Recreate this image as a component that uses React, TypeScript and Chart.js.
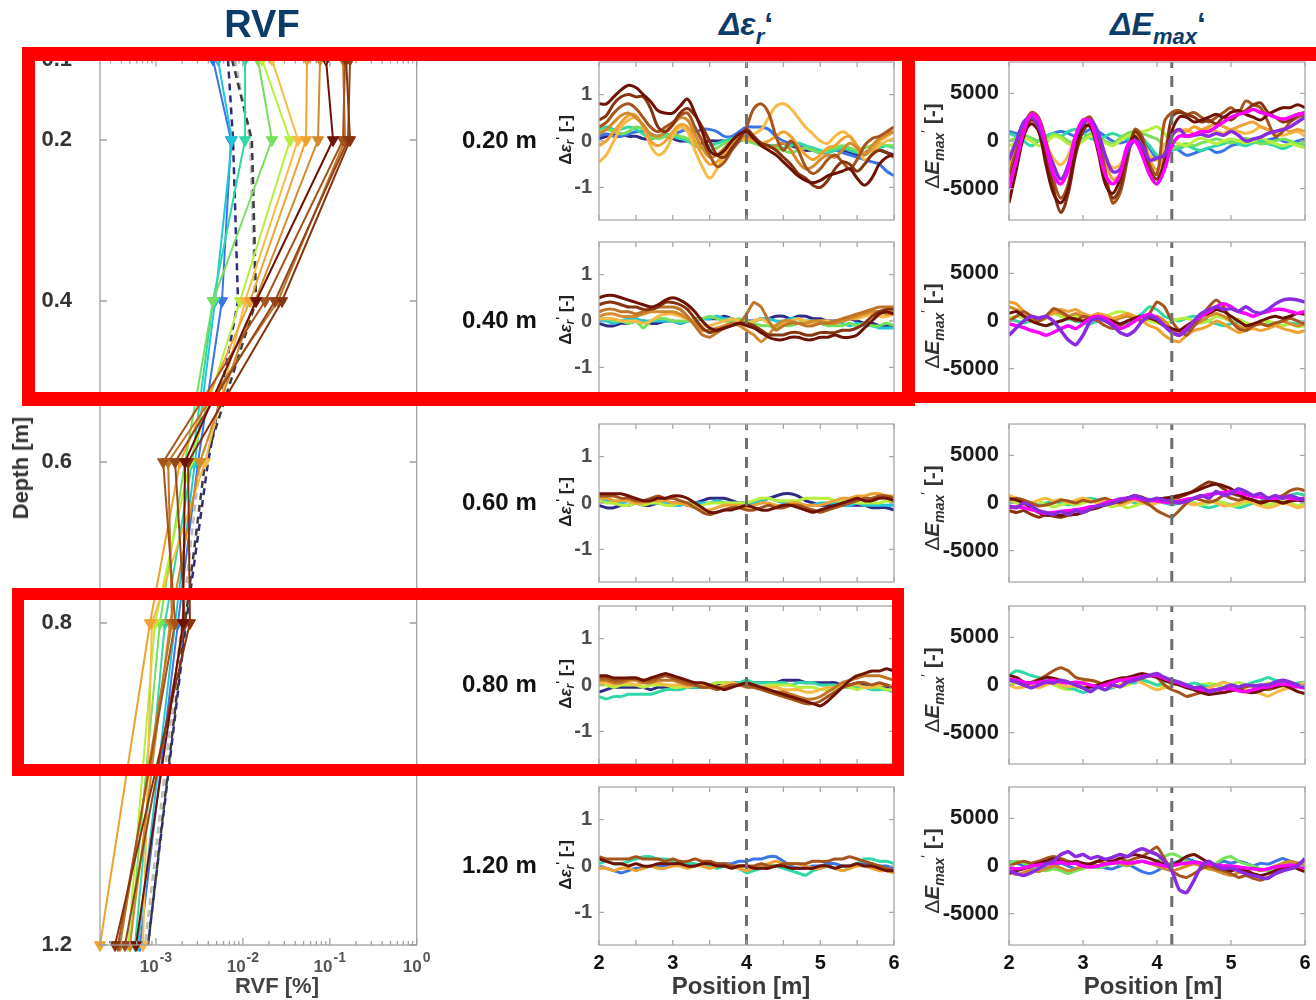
import React, { useEffect, useRef } from "react";
import { Chart, registerables } from "chart.js";

Chart.register(...registerables);

const FONT = "'Liberation Sans', Arimo, Arial, Helvetica, sans-serif";

// ---------------- data ----------------
const POSITIONS = [2.0, 2.1, 2.2, 2.3, 2.4, 2.5, 2.6, 2.7, 2.8, 2.9, 3.0, 3.1, 3.2, 3.3, 3.4, 3.5, 3.6, 3.7, 3.8, 3.9, 4.0, 4.1, 4.2, 4.3, 4.4, 4.5, 4.6, 4.7, 4.8, 4.9, 5.0, 5.1, 5.2, 5.3, 5.4, 5.5, 5.6, 5.7, 5.8, 5.9, 6.0];
const DEPTH_LABELS = ["0.20 m", "0.40 m", "0.60 m", "0.80 m", "1.20 m"];
const EPS_TICKS = [-1, 0, 1];
const EMAX_TICKS = [-5000, 0, 5000];
const EPS_X_TICKS = [2, 2.5, 3, 3.5, 4, 4.5, 5, 5.5, 6];
const EMAX_X_TICKS = [2, 3, 4, 5, 6];
const EPS_LIMIT = 1.7;
const EMAX_LIMIT = 8300;
const EPS_MARKER_POSITION = 4.0;
const EMAX_MARKER_POSITION = 4.2;

const RVF_DEPTHS = [0.1, 0.2, 0.4, 0.6, 0.8, 1.2];
const RVF_DEPTH_TICKS = [0.1, 0.2, 0.4, 0.6, 0.8, 1.2];
const RVF_MIN = 2.27e-4;
const RVF_MAX = 1;
const RVF_DECADES = [1e-3, 1e-2, 1e-1, 1];
const RVF_MINOR = [3e-4, 4e-4, 5e-4, 6e-4, 7e-4, 8e-4, 9e-4, 2e-3, 3e-3, 4e-3, 5e-3, 6e-3, 7e-3, 8e-3, 9e-3, 2e-2, 3e-2, 4e-2, 5e-2, 6e-2, 7e-2, 8e-2, 9e-2, 0.2, 0.3, 0.4, 0.5, 0.6, 0.7, 0.8, 0.9];

const RVF_KEYS = ["s14", "s13", "s12", "s11", "s10", "s9", "s8", "s7", "s6", "s5", "s4", "s3", "s2"];
const RVF_VALUES = [
  [0.0905, 0.109, 0.0142, 0.00216, 0.00205, 0.000589],
  [0.154, 0.171, 0.0282, 0.00234, 0.00246, 0.000338],
  [0.171, 0.162, 0.0234, 0.00166, 0.00216, 0.00044],
  [0.15, 0.142, 0.018, 0.00121, 0.00166, 0.000366],
  [0.142, 0.15, 0.0254, 0.00138, 0.00153, 0.000386],
  [0.0772, 0.0732, 0.0138, 0.00321, 0.00145, 0.000503],
  [0.0547, 0.0533, 0.0121, 0.00189, 0.000854, 0.000227],
  [0.0216, 0.0431, 0.0106, 0.00367, 0.0009, 0.000709],
  [0.0166, 0.0349, 0.00927, 0.00246, 0.000975, 0.000477],
  [0.0149, 0.0216, 0.00453, 0.00216, 0.00111, 0.000503],
  [0.0106, 0.0106, 0.00453, 0.0026, 0.00127, 0.000574],
  [0.00517, 0.0075, 0.00478, 0.00281, 0.00166, 0.000621],
  [0.00453, 0.0073, 0.00575, 0.00305, 0.00179, 0.000655],
];
const RVF_REF_KEYS = ["d3", "d1", "d2"];
const RVF_REF_VALUES = [
  [0.0075, 0.0127, 0.0142, 0.00367, 0.00216, 0.00081],
  [0.00674, 0.0077, 0.00879, 0.00397, 0.00222, 0.00081],
  [0.00812, 0.0121, 0.0138, 0.00321, 0.00199, 0.000748],
];

// Δεr' panels
const EPS_020_KEYS = ["s14", "s13", "s11", "s9", "s8", "s7", "s5", "s4", "s2", "s1"];
const EPS_020 = [
  [0.8, 0.8, 0.95, 1.1, 1.2, 1.15, 1.0, 0.85, 0.65, 0.6, 0.6, 0.75, 0.9, 0.6, 0.2, -0.2, -0.3, -0.2, 0.0, 0.15, 0.2, 0.05, -0.1, -0.2, -0.3, -0.45, -0.6, -0.75, -0.85, -0.9, -0.85, -0.75, -0.7, -0.65, -0.6, -0.8, -0.95, -0.8, -0.5, -0.35, -0.3],
  [0.45, 0.55, 0.8, 0.95, 1.0, 0.95, 0.95, 0.7, 0.3, 0.2, 0.35, 0.6, 0.7, 0.55, 0.3, 0.0, -0.3, -0.35, -0.15, 0.05, 0.25, 0.1, -0.05, -0.1, -0.2, -0.35, -0.5, -0.7, -0.8, -0.95, -1.0, -0.85, -0.6, -0.45, -0.5, -0.65, -0.5, -0.3, -0.2, -0.25, -0.35],
  [0.3, 0.4, 0.6, 0.75, 0.8, 0.7, 0.5, 0.3, 0.2, 0.3, 0.4, 0.55, 0.6, 0.3, 0.0, -0.3, -0.55, -0.45, -0.2, 0.0, 0.3, 0.7, 0.8, 0.6, 0.1, -0.2, 0.0, -0.2, -0.55, -0.7, -0.6, -0.4, -0.3, -0.45, -0.6, -0.4, -0.1, 0.05, 0.1, 0.2, 0.3],
  [0.15, 0.25, 0.4, 0.55, 0.6, 0.5, 0.35, 0.15, 0.1, 0.2, 0.35, 0.5, 0.45, 0.15, -0.15, -0.35, -0.3, -0.15, 0.0, 0.1, 0.1, 0.05, -0.1, -0.15, -0.1, -0.05, -0.2, -0.45, -0.6, -0.55, -0.4, -0.3, -0.35, -0.2, -0.05, -0.15, -0.3, -0.1, 0.05, 0.15, 0.2],
  [-0.1, 0.0, 0.2, 0.4, 0.55, 0.55, 0.3, 0.0, -0.1, 0.0, 0.2, 0.35, 0.3, 0.0, -0.3, -0.5, -0.45, -0.25, -0.05, 0.05, 0.05, 0.0, -0.05, 0.0, 0.1, 0.2, 0.1, -0.1, -0.3, -0.4, -0.3, -0.15, -0.1, 0.05, 0.1, -0.1, -0.25, -0.2, 0.0, 0.1, 0.2],
  [-0.45, -0.3, 0.0, 0.3, 0.45, 0.5, 0.3, -0.1, -0.3, -0.2, 0.1, 0.3, 0.2, -0.2, -0.55, -0.8, -0.6, -0.3, -0.05, 0.1, 0.0, 0.15, 0.25, 0.5, 0.75, 0.8, 0.7, 0.5, 0.3, 0.15, 0.0, -0.05, 0.1, 0.2, 0.1, -0.15, -0.4, -0.3, -0.1, 0.0, 0.05],
  [0.2, 0.25, 0.2, 0.15, 0.2, 0.3, 0.25, 0.1, 0.05, 0.1, 0.15, 0.1, 0.05, -0.05, -0.15, -0.2, -0.15, -0.05, 0.0, 0.05, 0.0, -0.05, -0.1, -0.1, -0.15, -0.2, -0.25, -0.2, -0.15, -0.2, -0.25, -0.2, -0.15, -0.1, -0.15, -0.2, -0.15, -0.1, -0.05, -0.1, -0.1],
  [0.25, 0.3, 0.25, 0.25, 0.3, 0.25, 0.15, 0.05, 0.1, 0.15, 0.1, 0.05, 0.0, -0.1, -0.15, -0.1, -0.05, 0.0, 0.05, 0.0, 0.05, 0.0, -0.05, -0.1, -0.1, -0.15, -0.1, -0.05, -0.1, -0.15, -0.2, -0.25, -0.2, -0.15, -0.2, -0.25, -0.3, -0.2, -0.15, -0.1, -0.15],
  [0.1, 0.15, 0.1, 0.1, 0.15, 0.2, 0.2, 0.15, 0.1, 0.1, 0.15, 0.2, 0.25, 0.2, 0.25, 0.25, 0.2, 0.1, 0.1, 0.2, 0.3, 0.3, 0.3, 0.25, 0.1, 0.0, -0.05, -0.1, -0.15, -0.2, -0.25, -0.25, -0.2, -0.25, -0.3, -0.35, -0.4, -0.45, -0.5, -0.65, -0.75],
  [0.05, 0.1, 0.15, 0.15, 0.1, 0.1, 0.05, 0.05, 0.1, 0.1, 0.05, 0.0, 0.0, -0.05, -0.05, 0.0, 0.0, 0.0, -0.05, 0.0, 0.05, 0.0, -0.05, -0.1, -0.1, -0.05, -0.1, -0.15, -0.2, -0.2, -0.25, -0.2, -0.15, -0.2, -0.25, -0.3, -0.25, -0.2, -0.2, -0.25, -0.3],
];
const EPS_040_KEYS = ["s14", "s13", "s10", "s9", "s7", "s5", "s3", "s1"];
const EPS_040 = [
  [0.5, 0.55, 0.55, 0.5, 0.45, 0.4, 0.35, 0.3, 0.35, 0.45, 0.5, 0.45, 0.35, 0.2, 0.0, -0.15, -0.2, -0.15, -0.1, -0.05, -0.1, -0.15, -0.25, -0.35, -0.4, -0.4, -0.35, -0.35, -0.4, -0.4, -0.35, -0.35, -0.3, -0.35, -0.35, -0.3, -0.15, 0.0, 0.15, 0.2, 0.15],
  [0.35, 0.4, 0.4, 0.35, 0.3, 0.3, 0.25, 0.25, 0.3, 0.4, 0.4, 0.35, 0.25, 0.05, -0.15, -0.25, -0.2, -0.15, -0.1, -0.05, -0.05, -0.1, -0.2, -0.3, -0.3, -0.3, -0.25, -0.25, -0.3, -0.3, -0.25, -0.25, -0.25, -0.2, -0.2, -0.15, -0.05, 0.1, 0.2, 0.25, 0.25],
  [0.2, 0.25, 0.25, 0.2, 0.2, 0.15, 0.2, 0.25, 0.3, 0.3, 0.3, 0.25, 0.1, -0.1, -0.3, -0.35, -0.25, -0.15, -0.05, -0.05, 0.15, 0.4, 0.3, 0.0, -0.2, -0.1, -0.05, -0.05, -0.1, -0.1, -0.05, -0.05, 0.0, 0.05, 0.1, 0.15, 0.2, 0.25, 0.3, 0.3, 0.3],
  [0.1, 0.15, 0.15, 0.1, 0.1, 0.1, 0.15, 0.2, 0.2, 0.2, 0.2, 0.15, 0.05, -0.05, -0.2, -0.2, -0.15, -0.1, -0.05, -0.1, -0.2, -0.3, -0.45, -0.3, -0.1, 0.0, 0.0, -0.05, -0.05, 0.0, 0.0, -0.05, -0.05, 0.0, 0.05, 0.1, 0.15, 0.2, 0.2, 0.15, 0.2],
  [0.05, 0.05, 0.05, 0.0, 0.0, 0.0, -0.05, 0.0, 0.1, 0.15, 0.15, 0.1, 0.05, 0.0, -0.1, -0.1, -0.05, 0.0, 0.05, 0.0, -0.05, 0.0, 0.05, -0.05, -0.1, -0.05, 0.0, 0.05, 0.0, -0.05, 0.0, 0.0, -0.05, 0.0, 0.05, 0.05, 0.1, 0.15, 0.1, 0.1, 0.15],
  [0.05, 0.05, 0.0, 0.0, -0.05, 0.0, -0.15, 0.0, 0.05, 0.05, 0.0, 0.0, 0.0, 0.05, 0.05, 0.1, 0.05, 0.0, 0.0, 0.05, 0.0, -0.05, -0.1, -0.1, -0.15, -0.1, -0.1, -0.05, 0.0, -0.05, -0.05, -0.1, -0.1, -0.1, -0.05, -0.1, -0.05, -0.1, -0.1, -0.05, -0.1],
  [0.0, 0.0, -0.05, 0.0, 0.05, 0.05, 0.0, 0.0, 0.0, 0.0, 0.0, -0.05, 0.0, 0.0, 0.05, 0.05, 0.1, 0.05, 0.05, 0.0, -0.05, 0.0, 0.05, 0.05, 0.0, 0.0, 0.05, 0.05, 0.0, 0.0, -0.05, -0.05, 0.0, -0.05, -0.1, -0.05, -0.1, -0.1, -0.15, -0.15, -0.15],
  [-0.05, -0.1, -0.1, -0.05, -0.05, 0.0, 0.0, -0.05, -0.05, 0.0, 0.0, -0.05, 0.0, 0.05, 0.05, 0.05, 0.05, 0.1, 0.05, 0.0, 0.0, 0.0, 0.05, 0.05, 0.1, 0.1, 0.05, 0.1, 0.1, 0.05, 0.05, 0.0, 0.0, 0.0, 0.05, 0.0, -0.05, -0.05, -0.1, -0.1, -0.1],
];
const EPS_060_KEYS = ["s14", "s11", "s8", "s6", "s3", "s1"];
const EPS_060 = [
  [0.2, 0.2, 0.2, 0.2, 0.15, 0.1, 0.05, 0.05, 0.1, 0.1, 0.15, 0.15, 0.1, 0.0, -0.1, -0.2, -0.2, -0.15, -0.15, -0.1, -0.05, -0.1, -0.15, -0.15, -0.1, -0.05, -0.05, -0.1, -0.15, -0.2, -0.15, -0.1, -0.05, 0.0, 0.05, 0.1, 0.05, 0.05, 0.1, 0.1, 0.05],
  [0.15, 0.15, 0.15, 0.1, 0.1, 0.05, 0.05, 0.1, 0.15, 0.1, 0.1, 0.05, 0.0, -0.1, -0.2, -0.25, -0.2, -0.15, -0.1, -0.1, -0.15, -0.15, -0.1, -0.05, -0.1, -0.1, -0.05, -0.05, -0.1, -0.15, -0.2, -0.15, -0.1, -0.05, 0.0, 0.05, 0.1, 0.1, 0.15, 0.15, 0.1],
  [0.1, 0.1, 0.05, 0.05, 0.05, 0.0, 0.0, 0.05, 0.05, 0.05, 0.0, 0.0, -0.05, -0.1, -0.15, -0.15, -0.1, -0.05, -0.05, -0.05, -0.1, -0.05, 0.0, 0.0, -0.05, -0.05, 0.0, 0.0, -0.05, -0.05, -0.05, 0.0, 0.05, 0.1, 0.1, 0.15, 0.15, 0.2, 0.2, 0.15, 0.15],
  [0.05, 0.0, 0.0, -0.05, -0.05, 0.0, -0.05, 0.0, 0.0, -0.05, -0.05, 0.0, 0.0, -0.05, -0.05, 0.0, 0.0, 0.0, 0.0, 0.0, 0.0, 0.05, 0.1, 0.1, 0.05, 0.05, 0.05, 0.05, 0.1, 0.1, 0.1, 0.1, 0.05, 0.05, 0.05, 0.0, 0.0, 0.0, 0.0, 0.05, 0.0],
  [0.05, 0.05, 0.0, 0.0, 0.05, 0.05, 0.0, 0.0, 0.0, 0.0, -0.05, -0.05, 0.0, 0.0, 0.0, 0.0, 0.05, 0.0, 0.0, 0.0, 0.0, 0.0, 0.05, 0.1, 0.05, 0.0, 0.0, 0.0, -0.05, -0.05, 0.0, 0.0, 0.0, -0.05, -0.05, 0.0, -0.05, -0.05, -0.05, -0.05, -0.05],
  [-0.05, -0.1, -0.1, -0.05, -0.05, 0.0, -0.05, -0.05, 0.0, 0.0, 0.0, 0.0, -0.05, 0.0, 0.05, 0.1, 0.1, 0.1, 0.05, 0.0, 0.0, 0.0, 0.05, 0.1, 0.15, 0.2, 0.2, 0.15, 0.05, 0.0, -0.05, -0.05, -0.05, -0.05, -0.05, -0.05, -0.05, -0.1, -0.1, -0.1, -0.15],
];
const EPS_080_KEYS = ["s14", "s11", "s10", "s7", "s6", "s4", "s1"];
const EPS_080 = [
  [0.2, 0.2, 0.15, 0.15, 0.15, 0.15, 0.1, 0.15, 0.2, 0.25, 0.2, 0.15, 0.1, 0.05, 0.05, 0.0, -0.05, -0.1, -0.05, 0.0, 0.05, 0.0, -0.05, -0.1, -0.15, -0.2, -0.25, -0.3, -0.35, -0.4, -0.45, -0.35, -0.2, -0.05, 0.1, 0.2, 0.25, 0.3, 0.3, 0.35, 0.3],
  [0.15, 0.15, 0.1, 0.1, 0.15, 0.15, 0.1, 0.1, 0.15, 0.2, 0.15, 0.1, 0.05, 0.0, -0.05, -0.05, -0.1, -0.05, 0.0, 0.0, 0.0, -0.05, -0.1, -0.15, -0.2, -0.25, -0.3, -0.35, -0.4, -0.4, -0.35, -0.25, -0.15, -0.05, 0.0, 0.05, 0.05, 0.0, 0.05, 0.0, -0.05],
  [0.1, 0.1, 0.05, 0.05, 0.1, 0.1, 0.05, 0.05, 0.1, 0.1, 0.1, 0.05, 0.0, 0.0, -0.05, -0.05, -0.05, -0.05, 0.0, 0.0, -0.05, -0.05, -0.05, -0.1, -0.15, -0.15, -0.2, -0.25, -0.3, -0.3, -0.25, -0.15, -0.05, 0.05, 0.1, 0.15, 0.2, 0.2, 0.2, 0.15, 0.1],
  [0.05, 0.05, 0.0, 0.05, 0.05, 0.0, 0.05, 0.05, 0.05, 0.0, 0.0, 0.0, -0.05, 0.0, 0.0, 0.0, -0.05, 0.0, 0.05, 0.0, 0.0, 0.0, -0.05, -0.05, -0.05, -0.1, -0.1, -0.1, -0.15, -0.15, -0.1, -0.05, -0.05, 0.0, 0.0, 0.0, -0.05, -0.05, 0.0, 0.0, -0.05],
  [0.0, 0.0, -0.05, 0.0, 0.0, 0.0, -0.05, 0.0, 0.0, 0.0, -0.05, -0.05, 0.0, 0.0, 0.0, 0.0, 0.05, 0.05, 0.05, 0.0, 0.0, 0.0, -0.05, 0.0, 0.0, 0.0, 0.0, -0.05, -0.05, -0.05, -0.1, -0.1, -0.1, -0.05, -0.05, -0.1, -0.05, -0.05, -0.05, -0.1, -0.1],
  [-0.25, -0.3, -0.25, -0.25, -0.2, -0.2, -0.2, -0.2, -0.15, -0.1, -0.1, -0.1, -0.05, -0.05, -0.05, 0.0, 0.05, 0.05, 0.05, 0.05, 0.1, 0.05, 0.05, 0.05, 0.05, 0.05, 0.0, 0.05, 0.05, 0.05, 0.0, 0.0, 0.0, -0.05, -0.05, -0.05, -0.05, -0.1, -0.1, -0.1, -0.15],
  [-0.15, -0.1, -0.05, -0.05, -0.05, -0.05, -0.05, -0.1, -0.05, -0.05, -0.05, -0.05, -0.05, -0.05, -0.05, 0.0, 0.0, 0.05, 0.05, 0.05, 0.05, 0.05, 0.05, 0.05, 0.05, 0.1, 0.1, 0.1, 0.05, 0.05, 0.05, 0.05, 0.05, 0.0, 0.0, 0.0, 0.0, -0.05, -0.05, -0.05, -0.05],
];
const EPS_120_KEYS = ["s14", "s11", "s8", "s4", "s2"];
const EPS_120 = [
  [0.15, 0.1, 0.05, 0.05, 0.0, 0.05, 0.0, 0.0, 0.05, 0.05, 0.05, 0.05, 0.0, 0.0, 0.05, 0.05, 0.0, 0.0, -0.05, 0.0, 0.0, -0.05, -0.05, -0.05, 0.0, 0.0, -0.05, -0.05, -0.05, -0.05, 0.0, 0.0, -0.05, 0.0, 0.0, 0.05, 0.0, 0.0, -0.05, -0.1, -0.1],
  [0.2, 0.15, 0.15, 0.15, 0.15, 0.2, 0.15, 0.15, 0.15, 0.1, 0.15, 0.1, 0.1, 0.15, 0.1, 0.1, 0.05, 0.05, 0.0, 0.0, 0.0, 0.0, 0.05, 0.0, 0.0, 0.05, 0.05, 0.05, 0.05, 0.1, 0.1, 0.1, 0.15, 0.15, 0.2, 0.15, 0.1, 0.05, 0.0, -0.05, -0.1],
  [-0.05, -0.05, -0.1, -0.05, -0.05, -0.1, -0.05, 0.0, -0.05, -0.05, 0.0, 0.0, -0.05, 0.0, 0.0, -0.05, 0.0, 0.05, 0.0, -0.05, -0.1, -0.05, 0.0, 0.05, 0.1, 0.05, 0.05, 0.05, 0.0, -0.05, -0.05, 0.0, -0.05, -0.1, -0.05, 0.0, 0.0, -0.05, -0.1, -0.1, -0.15],
  [0.05, 0.1, 0.05, 0.05, 0.1, 0.15, 0.2, 0.2, 0.15, 0.15, 0.1, 0.05, 0.05, 0.05, 0.0, 0.0, -0.05, 0.0, 0.0, -0.05, -0.15, -0.1, -0.05, 0.0, 0.0, -0.05, -0.1, -0.15, -0.2, -0.1, -0.05, 0.0, -0.05, -0.1, -0.05, 0.05, 0.15, 0.15, 0.1, 0.1, 0.05],
  [0.0, -0.05, -0.1, -0.15, -0.1, -0.05, -0.05, 0.0, 0.0, 0.0, 0.05, 0.05, 0.0, 0.0, 0.05, 0.05, 0.05, 0.05, 0.05, 0.1, 0.1, 0.15, 0.15, 0.2, 0.2, 0.1, 0.0, -0.05, -0.05, 0.0, 0.0, 0.05, 0.05, 0.0, 0.0, 0.05, 0.05, 0.05, 0.0, 0.0, -0.05],
];

// ΔEmax' panels
const EMAX_020_KEYS = ["m1", "m2", "s14", "s13", "s11", "s8", "s7", "s6", "s5", "s4", "s2"];
const EMAX_020 = [
  [-5000, -2000, 1000, 2800, 2200, -500, -3500, -4500, -3000, 500, 2200, 2000, -500, -3500, -4500, -3500, -500, 0, -1500, -3500, -4500, -3000, -500, 500, 500, 700, 1000, 1000, 1500, 2000, 2500, 2800, 3000, 3300, 3000, 2800, 2500, 2300, 2500, 2800, 2900],
  [-2000, 0, 2000, 2500, 1500, -500, -2500, -4000, -2500, 500, 1800, 2200, 1000, -1500, -3200, -3000, -1000, 0, -500, -2000, -1800, -1500, 500, 1200, 500, 600, 700, 500, 800, 600, 1000, 600, 0, 200, 400, 800, 1000, 1200, 1500, 2000, 2500],
  [-6500, -3000, 500, 1800, 1000, -2500, -5500, -6500, -5000, -1000, 1500, 1500, -1000, -4500, -5500, -4000, -1000, 500, -1000, -3500, -4500, -2500, 1000, 2500, 2500, 2000, 2200, 2500, 2800, 2500, 3000, 3200, 2800, 2500, 2200, 2800, 3200, 3500, 3500, 3800, 3500],
  [-4500, -1500, 1000, 2200, 1500, -1500, -5000, -7500, -5500, -1500, 1000, 1800, 0, -4000, -6000, -5000, -1500, 1000, 0, -3000, -4000, -2000, 2500, 3000, 2800, 2500, 2000, 2200, 1800, 2500, 2200, 2800, 3200, 3800, 4000, 3000, 2500, 2000, 2200, 2800, 3000],
  [-3500, -1000, 1500, 3000, 2500, 0, -4000, -6000, -4500, -500, 2000, 2500, 500, -3000, -6500, -5500, -2000, 1200, 500, -2500, -3500, 2000, 3000, 3200, 2800, 3000, 2500, 2000, 2500, 3000, 3500, 3000, 4200, 3800, 3500, 2000, 500, 1000, 2000, 2500, 2800],
  [-2500, -500, 1500, 2500, 2000, 0, -2500, -4000, -3000, 0, 1800, 2000, 500, -2000, -4000, -3500, -1000, 800, 0, -2000, -3000, -1500, 800, 1200, 1000, 1500, 1200, 1500, 1800, 1500, 1200, 1500, 1800, 2000, 1500, 1200, 1000, 1300, 1000, 1200, 1000],
  [-1500, 0, 1200, 1800, 1200, -200, -1800, -2500, -1500, 500, 1500, 1500, 500, -1500, -2800, -2500, -800, 500, 0, -1500, -2000, -500, 800, 1000, 1200, 800, 1000, 1300, 1000, 800, 1200, 1000, 800, 1000, 1500, 1200, 800, 600, 800, 1000, 500],
  [-500, -200, 300, 0, -500, -200, 500, 300, -300, -500, 0, 500, 300, -200, -500, 0, 500, 800, 1000, 1200, 1500, 800, 0, -300, -500, 0, 300, 0, -300, 0, 200, 0, -200, 0, 300, 0, -300, -500, -300, -500, -700],
  [0, 300, 600, 300, 0, 300, 700, 500, 0, -300, 200, 800, 500, 0, -300, 300, 800, 1000, 800, 500, 200, -500, -800, -500, -300, -500, -200, 0, 200, 0, -200, 0, 300, 0, -300, -200, 0, 200, 0, -300, -200],
  [800, 500, 0, -500, 0, 500, 800, 500, 1000, 1200, 800, 300, 0, 500, 800, 500, 200, 500, 300, -500, -1500, -2000, -1000, -800, -500, -800, -1000, -700, -500, -300, 0, -300, -500, -200, 0, -300, -500, -800, -500, -300, -500],
  [1000, 800, 500, 300, 0, 500, 800, 1000, 800, 500, 800, 1200, 1000, 500, 0, -200, 0, 300, 0, -800, -1800, -1200, -500, -1000, -1500, -1300, -1000, -800, -1200, -1000, -500, -300, 0, 200, 0, 100, 300, 0, -200, 0, 200],
];
const EMAX_040_KEYS = ["m2", "m1", "s14", "s11", "s8", "s9", "s6", "s4"];
const EMAX_040 = [
  [-1500, -700, 0, 500, 300, 500, 0, -1000, -2000, -2500, -1500, 0, 300, 0, -500, -1200, -1500, -1000, 0, 500, 200, -500, -1200, -1500, -1000, 0, 800, 1200, 1500, 1200, 1300, 1000, 1500, 1000, 800, 1200, 1800, 2200, 2300, 2200, 2000],
  [-300, -500, -700, -1000, -1200, -1500, -1200, -800, -500, -800, -300, 300, 500, 300, -300, -800, -500, 0, 500, 700, 300, -500, -1200, -1500, -800, 0, 500, 1000, 1500, 1800, 1500, 1000, 800, 500, 800, 1000, 1200, 1200, 1000, 800, 1000],
  [800, 1000, 500, 0, -300, -500, -200, 0, 300, 200, 0, 300, 500, 300, 0, -300, 0, 300, 500, 300, 0, -500, -800, -1000, -500, 0, 500, 800, 1200, 1000, 500, 0, -500, -300, 0, 300, 500, 300, 500, 800, 700],
  [0, 500, 1000, 500, 0, 500, 1300, 1000, 500, 0, 500, 300, 0, -500, -800, -500, 0, 300, 0, 800, 2000, 1500, 0, -1000, -1500, -500, 500, 1500, 2200, 1500, 0, -800, -1000, -500, -300, -500, -200, 0, 300, 0, -300],
  [2000, 1800, 1000, 500, 0, 500, 800, 1200, 1000, 1200, 800, 500, 800, 600, 300, 500, 800, 500, 0, -500, -800, -1500, -2000, -2200, -1500, -1000, -800, -500, 0, -300, -800, -1200, -1000, -800, -1000, -800, -500, -800, -1000, -1200, -1000],
  [1500, 1200, 800, 300, 0, 300, 1000, 800, 500, 800, 500, 200, 500, 300, 0, 300, 500, 300, 0, 300, 500, 0, -800, -1200, -1000, -500, 0, 500, 800, 500, 0, -500, -800, -500, -300, -500, -300, 0, -300, -500, -300],
  [300, 500, 300, 0, 200, 500, 800, 500, 300, 500, 300, 0, 200, 500, 800, 1000, 800, 500, 300, 0, -200, -300, 0, 200, 300, 0, -200, 0, 500, 300, 0, 200, -200, -400, -200, 0, -300, -500, -300, -600, -500],
  [200, 0, -200, 0, -300, -500, -300, 0, 200, 0, -200, -300, 0, 200, -200, -400, -200, 300, 800, 1500, 1200, 500, 200, 0, 300, 500, 300, 0, -300, -500, -300, -100, -300, -500, -200, -100, -300, -500, -200, -300, -400],
];
const EMAX_060_KEYS = ["m2", "m1", "s14", "s13", "s11", "s7", "s6", "s4"];
const EMAX_060 = [
  [-300, -500, 0, -300, -800, -1000, -1200, -900, -1200, -800, -1000, -600, -300, -200, 0, 300, 500, 800, 500, 300, 500, 300, 200, 0, 200, 500, 800, 500, 1200, 800, 1000, 1500, 1200, 800, 1000, 500, 800, 500, 800, 500, 300],
  [-500, -400, -500, -700, -900, -1100, -1000, -900, -800, -700, -600, -400, -300, 0, 200, 400, 500, 500, 400, 300, 200, 100, 0, 200, 400, 500, 700, 900, 1000, 1100, 1200, 1100, 900, 700, 600, 500, 500, 600, 500, 400, 500],
  [500, 300, 0, -500, -1000, -1300, -1200, -1300, -1000, -1200, -1000, -700, -500, -200, 0, 200, 500, 700, 400, 200, 300, 500, 600, 800, 1000, 1200, 1500, 1800, 2000, 1800, 1500, 1000, 500, 300, 0, 200, 300, 0, 200, 300, 200],
  [-800, -1000, -800, -1200, -1500, -1200, -1400, -1500, -1300, -1200, -900, -600, -300, -200, 0, 300, 500, 800, 600, 300, 400, 500, 500, 600, 900, 1300, 1800, 2200, 2000, 1500, 1000, 800, 500, 300, 100, 300, 200, 0, 200, 400, 300],
  [300, 500, 300, 0, -300, -200, 0, 300, 200, 0, 300, 100, 300, 500, 200, 0, 300, 500, 200, -200, -800, -1200, -1500, -800, 0, 500, 300, 100, 300, 800, 500, 300, 500, 300, 0, 300, 500, 800, 1300, 1500, 1300],
  [800, 500, 300, 0, 300, 500, 200, 400, 0, 300, 500, 300, 0, 200, 0, -200, 0, 300, 0, -200, 0, 300, 500, 300, 0, -200, 0, 300, 0, -300, -200, 0, 300, 0, -300, -500, -300, 0, -200, -500, -300],
  [200, 0, -200, 0, 200, -200, -400, -200, 0, -200, 0, 200, 0, -200, -400, -200, -500, -300, 0, 200, 400, 200, 0, 200, 300, 0, -200, 0, 200, 0, -300, -200, 0, 200, 0, -200, 0, 200, 0, -300, 0],
  [0, 200, 300, 0, -200, 0, 200, 0, -200, 0, 300, 500, 300, 0, 200, 500, 300, 0, 200, 400, 200, 0, -200, 0, 300, 0, -300, -500, -300, 0, -200, -500, -300, 0, 200, 500, 300, 600, 800, 1000, 800],
];
const EMAX_080_KEYS = ["m2", "m1", "s14", "s11", "s7", "s4", "s6"];
const EMAX_080 = [
  [500, 300, 0, -300, 0, 300, 200, 500, 300, 0, -300, -700, -200, -500, 0, -200, 300, 500, 800, 1000, 1200, 800, 500, 300, 0, -300, -200, -700, -500, -300, 0, -200, 0, -100, 0, 0, 300, 500, 300, 0, -200],
  [600, 500, 300, 200, 300, 400, 500, 300, 200, 300, 200, 0, -200, 0, 300, 500, 600, 700, 900, 1000, 1000, 700, 400, 200, -100, -300, -500, -600, -500, -400, -400, -600, -700, -500, -300, -200, 0, 100, 0, -200, -300],
  [1000, 800, 300, 200, 500, 800, 700, 500, 300, 0, -300, -200, 0, 300, 500, 700, 800, 1000, 1200, 1000, 800, 500, 200, 0, -300, -500, -800, -1000, -900, -800, -600, -500, -700, -800, -600, -300, -200, 0, -300, -700, -900],
  [500, 300, 0, 300, 600, 1000, 1500, 1800, 1500, 800, 600, 500, 300, 0, 200, 500, 300, 500, 700, 1000, 800, 0, -500, -800, -1200, -1000, -800, -600, -500, -800, -600, -400, -200, 0, -300, -500, -300, 0, 300, 0, -300],
  [0, -300, -200, 0, -300, 0, 300, 0, -200, 0, 300, 500, 300, 0, -200, 0, 300, 500, 200, -200, -500, -300, 0, 300, 0, -300, -500, -300, 0, 300, 0, -300, -500, -700, -900, -1200, -800, -500, -300, 0, 300],
  [1000, 1500, 1300, 1000, 800, 500, 300, 0, -300, -500, -800, -500, -300, -500, -300, 0, 300, 200, 500, 300, 0, 300, 500, 300, 0, 200, 0, -200, 0, 300, 0, -200, 0, 300, 500, 800, 500, 300, 0, 200, 300],
  [0, 200, 100, -200, 0, 250, 50, -300, -500, -300, 0, -150, 0, 200, 50, -200, 0, 300, 500, 300, 0, -200, -50, 200, 0, -250, 0, 150, 50, -200, 0, 250, 0, -200, -100, 200, 50, -200, -50, 200, 0],
];
const EMAX_120_KEYS = ["m2", "m1", "s14", "s11", "s9", "s5", "s2"];
const EMAX_120 = [
  [-500, -800, -1000, -700, -300, 200, 500, 1200, 1500, 1000, 1200, 800, 1000, 700, 900, 1200, 1000, 1500, 1800, 1500, 1200, 500, -500, -2500, -2800, -1500, 0, 500, 0, -300, -200, -500, -800, -1000, -1200, -1300, -800, -500, -300, 0, 800],
  [-200, -300, -200, 0, 100, 200, 300, 400, 200, 300, 0, -100, 0, 200, 300, 400, 300, 400, 500, 300, 200, 0, 0, 200, 300, 400, 300, 200, 100, 0, 0, -100, -200, -300, -400, -300, -100, 0, 100, 0, -200],
  [-800, -500, -300, 0, 300, 500, 800, 500, 300, 500, 300, 200, 500, 700, 500, 800, 1000, 1200, 1000, 800, 500, 200, 0, 500, 1000, 1200, 800, 300, 0, -300, -500, -300, -500, -800, -1000, -800, -500, -200, 0, -300, -600],
  [0, 300, 500, 300, 500, 800, 1000, 800, 500, 300, 0, 200, 500, 300, 500, 800, 500, 800, 1000, 1500, 2000, 800, -500, -1000, -1200, -800, -300, 0, -300, -500, -800, -1200, -1000, -1300, -1500, -1200, -800, -500, -200, 200, 500],
  [-600, -900, -700, -400, -600, -300, 0, -200, -500, -300, 0, 300, 0, 200, 500, 300, 100, 300, 500, 300, 0, -300, -500, -300, 0, 200, 0, -300, -500, -800, -1000, -700, -500, -300, -500, -300, 0, 300, 500, 300, 0],
  [300, 500, 300, 0, -300, -500, -300, -500, -800, -500, -300, 0, -200, 0, 300, 200, 0, 300, 500, 300, 500, 1000, 1300, 1000, 500, 300, 0, -300, 300, 800, 1000, 500, 200, 0, -300, -500, -300, 0, 300, 0, -300],
  [500, 300, 0, -300, -500, -200, 0, 300, 0, -300, 0, 200, 0, -200, -300, 0, 200, -200, -600, -800, -500, 0, 300, 500, 800, 500, 300, 0, 200, 500, 300, 500, 300, 0, 300, 200, 500, 800, 500, 300, 500],
];

// ---------------- styles ----------------
const SERIES_COLORS: Record<string, string> = {
  s1: "#2e2a86", s2: "#3b74e6", s3: "#22c6dc", s4: "#2fd8a6", s5: "#74e05c", s6: "#b8ee3c",
  s7: "#f7bb45", s8: "#eda232", s9: "#d28a2c", s10: "#c07428", s11: "#a4541c", s12: "#94461a",
  s13: "#86340f", s14: "#6e1206", m1: "#ff00ff", m2: "#8b2be0",
  d1: "#2b2d7c", d2: "#bdbdbd", d3: "#3c3c3c",
};
const PANEL_TOPS = [62, 242, 424, 606, 787];
const PANEL_H = 158;
const EPS_PANELS: any[] = [[EPS_020_KEYS, EPS_020], [EPS_040_KEYS, EPS_040], [EPS_060_KEYS, EPS_060], [EPS_080_KEYS, EPS_080], [EPS_120_KEYS, EPS_120]];
const EMAX_PANELS: any[] = [[EMAX_020_KEYS, EMAX_020], [EMAX_040_KEYS, EMAX_040], [EMAX_060_KEYS, EMAX_060], [EMAX_080_KEYS, EMAX_080], [EMAX_120_KEYS, EMAX_120]];

function zeroPad(s: any) {
  s.paddingTop = 0;
  s.paddingBottom = 0;
  s.paddingLeft = 0;
  s.paddingRight = 0;
}

function makeFrame(color: string, tickLen: number, minorLen: number, logX: boolean) {
  return {
    id: "frame",
    afterDatasetsDraw(chart: any) {
      const { ctx, chartArea: a } = chart;
      const xs = chart.scales.x;
      const ys = chart.scales.y;
      ctx.save();
      ctx.strokeStyle = color;
      ctx.lineWidth = 1.3;
      ctx.beginPath();
      for (const t of xs.ticks) {
        const px = xs.getPixelForValue(t.value);
        let len = tickLen;
        if (logX) {
          const lg = Math.log10(t.value);
          if (Math.abs(lg - Math.round(lg)) > 1e-6) len = minorLen;
        }
        ctx.moveTo(px, a.bottom);
        ctx.lineTo(px, a.bottom - len);
        ctx.moveTo(px, a.top);
        ctx.lineTo(px, a.top + len);
      }
      for (const t of ys.ticks) {
        const py = ys.getPixelForValue(t.value);
        ctx.moveTo(a.left, py);
        ctx.lineTo(a.left + tickLen, py);
        ctx.moveTo(a.right, py);
        ctx.lineTo(a.right - tickLen, py);
      }
      ctx.stroke();
      ctx.strokeRect(a.left, a.top, a.right - a.left, a.bottom - a.top);
      ctx.restore();
    },
  };
}

const rvfDecadeLabels = {
  id: "rvfDecadeLabels",
  afterDraw(chart: any) {
    const { ctx, chartArea: a } = chart;
    const xs = chart.scales.x;
    ctx.save();
    ctx.fillStyle = "#555555";
    ctx.textAlign = "left";
    ctx.textBaseline = "alphabetic";
    for (const v of RVF_DECADES) {
      const px = xs.getPixelForValue(v);
      const exp = String(Math.round(Math.log10(v)));
      ctx.font = `bold 17px ${FONT}`;
      const w1 = ctx.measureText("10").width;
      ctx.font = `bold 14px ${FONT}`;
      const w2 = ctx.measureText(exp).width;
      const start = px - (w1 + w2 + 1) / 2;
      ctx.font = `bold 17px ${FONT}`;
      ctx.fillText("10", start, a.bottom + 27);
      ctx.font = `bold 14px ${FONT}`;
      ctx.fillText(exp, start + w1 + 1, a.bottom + 17);
    }
    ctx.restore();
  },
};

function buildRvf() {
  const markerSets = RVF_KEYS.map((k, i) => ({
    data: RVF_DEPTHS.map((d, j) => ({ x: RVF_VALUES[i][j], y: d })),
    borderColor: SERIES_COLORS[k],
    backgroundColor: SERIES_COLORS[k],
    borderWidth: 2,
    showLine: true,
    pointStyle: "triangle",
    pointRotation: 180,
    pointRadius: 6.5,
    pointBorderWidth: 1,
    clip: false,
  }));
  const refSets = RVF_REF_KEYS.map((k, i) => ({
    data: RVF_DEPTHS.map((d, j) => ({ x: RVF_REF_VALUES[i][j], y: d })),
    borderColor: SERIES_COLORS[k],
    borderWidth: 2.5,
    borderDash: [7, 5],
    showLine: true,
    pointRadius: 0,
    clip: false,
  }));
  return {
    type: "scatter",
    data: { datasets: [...markerSets, ...refSets] },
    options: {
      animation: false,
      responsive: false,
      maintainAspectRatio: false,
      events: [],
      layout: { padding: { top: 59.5, right: 23.3, bottom: 0, left: 0 } },
      plugins: { legend: { display: false }, tooltip: { enabled: false } },
      scales: {
        x: {
          type: "logarithmic",
          min: RVF_MIN,
          max: RVF_MAX,
          grid: { display: false, drawTicks: false },
          border: { display: false },
          ticks: { display: false },
          afterBuildTicks: (s: any) => {
            s.ticks = [...RVF_MINOR, ...RVF_DECADES].map((v) => ({ value: v }));
          },
          afterFit: (s: any) => {
            s.height = 55;
            zeroPad(s);
          },
        },
        y: {
          type: "linear",
          reverse: true,
          min: 0.1,
          max: 1.2,
          grid: { display: false, drawTicks: false },
          border: { display: false },
          afterBuildTicks: (s: any) => {
            s.ticks = RVF_DEPTH_TICKS.map((v) => ({ value: v }));
          },
          ticks: {
            padding: 28,
            color: "#333333",
            font: { family: FONT, size: 22, weight: "bold" },
            callback: (v: any) => String(v),
          },
          afterFit: (s: any) => {
            s.width = 100;
            zeroPad(s);
          },
        },
      },
    },
    plugins: [makeFrame("#a0a0a0", 7, 4, true), rvfDecadeLabels],
  };
}

function buildPanel(isEps: boolean, idx: number) {
  const last = idx === 4;
  const [keys, series] = (isEps ? EPS_PANELS : EMAX_PANELS)[idx];
  const lim = isEps ? EPS_LIMIT : EMAX_LIMIT;
  const marker = isEps ? EPS_MARKER_POSITION : EMAX_MARKER_POSITION;
  const xTicks = isEps ? EPS_X_TICKS : EMAX_X_TICKS;
  const yTicks = isEps ? EPS_TICKS : EMAX_TICKS;
  const tension = idx === 0 ? 0.35 : 0.15;
  const divider = {
    data: [{ x: marker, y: -lim }, { x: marker, y: lim }],
    borderColor: "#6e6e6e",
    borderWidth: 3,
    borderDash: [11, 8],
    pointRadius: 0,
  };
  const lines = keys.map((k: string, i: number) => ({
    data: series[i].map((v: number, j: number) => ({ x: POSITIONS[j], y: v })),
    borderColor: SERIES_COLORS[k],
    borderWidth: k[0] === "m" ? 3.5 : 3,
    pointRadius: 0,
    tension,
  }));
  return {
    type: "line",
    data: { datasets: [divider, ...lines] },
    options: {
      animation: false,
      responsive: false,
      maintainAspectRatio: false,
      events: [],
      layout: { padding: { top: 10, right: isEps ? 16 : 11, bottom: last ? 4 : 6, left: 0 } },
      plugins: { legend: { display: false }, tooltip: { enabled: false } },
      scales: {
        x: {
          type: "linear",
          min: 2,
          max: 6,
          grid: { display: false, drawTicks: false },
          border: { display: false },
          afterBuildTicks: (s: any) => {
            s.ticks = xTicks.map((v: number) => ({ value: v }));
          },
          ticks: {
            display: last,
            autoSkip: false,
            maxRotation: 0,
            padding: 6,
            color: "#111111",
            font: { family: FONT, size: 20, weight: "bold" },
            callback: (v: any) => (Number.isInteger(v) ? String(v) : ""),
          },
          afterFit: (s: any) => {
            s.height = last ? 36 : 0;
            zeroPad(s);
          },
        },
        y: {
          type: "linear",
          min: -lim,
          max: lim,
          grid: { display: false, drawTicks: false },
          border: { display: false },
          afterBuildTicks: (s: any) => {
            s.ticks = yTicks.map((v: number) => ({ value: v }));
          },
          ticks: {
            padding: isEps ? 7 : 10,
            color: isEps ? "#4d4d4d" : "#1a1a1a",
            font: { family: FONT, size: isEps ? 20 : 22, weight: "bold" },
            callback: (v: any) => String(v),
          },
          afterFit: (s: any) => {
            s.width = isEps ? 149 : 74;
            zeroPad(s);
          },
        },
      },
    },
    plugins: [makeFrame("#a8a8a8", 5, 3, false)],
  };
}

function ChartBox({ left, top, width, height, build }: any) {
  const ref = useRef<HTMLCanvasElement | null>(null);
  useEffect(() => {
    const chart = new Chart(ref.current as HTMLCanvasElement, build());
    return () => chart.destroy();
  }, []);
  return (
    <canvas
      ref={ref}
      width={width}
      height={height}
      style={{ position: "absolute", left, top, width, height }}
    />
  );
}

function Label({ x, y, rotate, left, style, children }: any) {
  const tr = left ? "translate(0,-50%)" : `translate(-50%,-50%)${rotate ? " rotate(-90deg)" : ""}`;
  return (
    <div
      style={{
        position: "absolute",
        left: x,
        top: y,
        transform: tr,
        whiteSpace: "nowrap",
        lineHeight: 1,
        fontFamily: FONT,
        fontWeight: "bold",
        zIndex: 2,
        ...style,
      }}
    >
      {children}
    </div>
  );
}

const red = "#ff0000";

export default function App() {
  const title = { color: "#0c3c69" };
  return (
    <div
      style={{
        position: "absolute",
        left: 0,
        top: 0,
        width: 1316,
        height: 1000,
        background: "#ffffff",
        overflow: "hidden",
        fontFamily: FONT,
      }}
    >
      <ChartBox left={0} top={0} width={440} height={1000} build={buildRvf} />
      {PANEL_TOPS.map((t, i) => (
        <ChartBox key={"e" + i} left={450} top={t - 10} width={460} height={10 + PANEL_H + (i === 4 ? 40 : 6)} build={() => buildPanel(true, i)} />
      ))}
      {PANEL_TOPS.map((t, i) => (
        <ChartBox key={"m" + i} left={935} top={t - 10} width={381} height={10 + PANEL_H + (i === 4 ? 40 : 6)} build={() => buildPanel(false, i)} />
      ))}

      <Label x={262} y={24} style={{ ...title, fontSize: 38 }}>RVF</Label>
      <Label x={746} y={24} style={{ ...title, fontSize: 32 }}>
        <span style={{ fontStyle: "italic" }}>Δε</span>
        <span style={{ fontStyle: "italic", fontSize: 22, position: "relative", top: 9 }}>r</span>
        <span>‘</span>
      </Label>
      <Label x={1158} y={24} style={{ ...title, fontSize: 32 }}>
        <span style={{ fontStyle: "italic" }}>ΔE</span>
        <span style={{ fontStyle: "italic", fontSize: 22, position: "relative", top: 9 }}>max</span>
        <span>‘</span>
      </Label>

      <Label x={21} y={468} rotate style={{ fontSize: 22, color: "#333333" }}>Depth [m]</Label>
      <Label x={277} y={986} style={{ fontSize: 22, color: "#444444" }}>RVF [%]</Label>
      <Label x={741} y={986} style={{ fontSize: 24, color: "#3a3a3a" }}>Position [m]</Label>
      <Label x={1153} y={986} style={{ fontSize: 24, color: "#3a3a3a" }}>Position [m]</Label>

      {PANEL_TOPS.map((t, i) => (
        <Label key={"rl" + i} x={462} y={t + 78} left style={{ fontSize: 24, color: "#111111" }}>
          {DEPTH_LABELS[i]}
        </Label>
      ))}
      {PANEL_TOPS.map((t, i) => (
        <Label key={"et" + i} x={565} y={t + 78} rotate style={{ fontSize: 17, color: "#222222" }}>
          Δ<i>ε</i>
          <span style={{ fontStyle: "italic", fontSize: 12, position: "relative", top: 3 }}>r</span>
          <span style={{ fontSize: 12, position: "relative", top: -6 }}>'</span> [-]
        </Label>
      ))}
      {PANEL_TOPS.map((t, i) => (
        <Label key={"mt" + i} x={931} y={t + 84} rotate style={{ fontSize: 21, color: "#333333" }}>
          <span style={{ fontWeight: "normal" }}>Δ</span>
          <i>E</i>
          <span style={{ fontStyle: "italic", fontSize: 14, position: "relative", top: 5 }}>max</span>
          <span style={{ fontWeight: "normal", fontSize: 14, position: "relative", top: -8 }}>′</span> [-]
        </Label>
      ))}

      <div style={{ position: "absolute", left: 22, top: 47, width: 893, height: 359, borderStyle: "solid", borderColor: red, borderWidth: "14px 13px 14px 13px", boxSizing: "border-box", zIndex: 3 }} />
      <div style={{ position: "absolute", left: 915, top: 47, width: 420, height: 356, borderTop: `14px solid ${red}`, borderBottom: `11px solid ${red}`, boxSizing: "border-box", zIndex: 3 }} />
      <div style={{ position: "absolute", left: 12, top: 588, width: 892, height: 188, border: `12px solid ${red}`, boxSizing: "border-box", zIndex: 3 }} />
    </div>
  );
}
